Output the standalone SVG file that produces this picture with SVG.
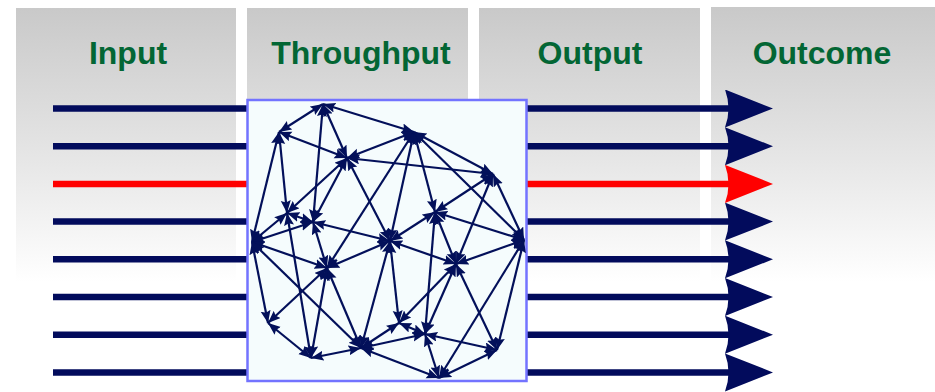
<svg xmlns="http://www.w3.org/2000/svg" width="935" height="392" viewBox="0 0 935 392">
<defs>
<linearGradient id="pg" x1="0" y1="0" x2="0" y2="1">
<stop offset="0" stop-color="#c9c9c9"/>
<stop offset="0.55" stop-color="#e6e6e6"/>
<stop offset="1" stop-color="#ffffff"/>
</linearGradient>
<marker id="bigN" markerUnits="userSpaceOnUse" markerWidth="50" markerHeight="40" viewBox="0 0 50 40" refX="10" refY="19" orient="auto">
<path d="M0,0 L48,19 L0,38 Q7,19 0,0 z" fill="#020b5c"/>
</marker>
<marker id="bigR" markerUnits="userSpaceOnUse" markerWidth="50" markerHeight="40" viewBox="0 0 50 40" refX="10" refY="19" orient="auto">
<path d="M0,0 L48,19 L0,38 Q7,19 0,0 z" fill="#ff0000"/>
</marker>
<marker id="sm" markerUnits="userSpaceOnUse" markerWidth="14" markerHeight="11" viewBox="0 0 14 11" refX="12.5" refY="5" orient="auto-start-reverse">
<path d="M0,0 L12.5,5 L0,10 L2,5 z" fill="#03105a"/>
</marker>
<style>
.panel{fill:url(#pg)}
.title{font-family:"Liberation Sans",Arial,sans-serif;font-weight:bold;font-size:32px;fill:#036634;text-anchor:middle}
.flow{stroke:#020b5c;stroke-width:6.5;fill:none;marker-end:url(#bigN)}
.flow.red{stroke:#ff0000;marker-end:url(#bigR)}
.e{stroke:#03105a;stroke-width:2.2;fill:none;marker-start:url(#sm);marker-end:url(#sm)}
</style>
</defs>
<rect width="935" height="392" fill="#ffffff"/>
<g id="panel-input"><rect class="panel" x="16" y="8" width="220" height="274"/><text class="title" x="128" y="64">Input</text></g>
<g id="panel-throughput"><rect class="panel" x="247" y="8" width="221" height="274"/><text class="title" x="361" y="64">Throughput</text></g>
<g id="panel-output"><rect class="panel" x="479" y="8" width="221" height="274"/><text class="title" x="590" y="64">Output</text></g>
<g id="panel-outcome"><rect class="panel" x="711" y="7" width="224" height="275"/><text class="title" x="822" y="64">Outcome</text></g>
<g id="flows">
<line class="flow" x1="53" y1="108.5" x2="735" y2="108.5"/>
<line class="flow" x1="53" y1="146.2" x2="735" y2="146.2"/>
<line class="flow red" x1="53" y1="183.9" x2="735" y2="183.9"/>
<line class="flow" x1="53" y1="221.6" x2="735" y2="221.6"/>
<line class="flow" x1="53" y1="259.3" x2="735" y2="259.3"/>
<line class="flow" x1="53" y1="297" x2="735" y2="297"/>
<line class="flow" x1="53" y1="334.7" x2="735" y2="334.7"/>
<line class="flow" x1="53" y1="372.4" x2="735" y2="372.4"/>
</g>
<g id="throughput-box"><rect x="247.5" y="100" width="279" height="281" fill="#f5fcfd" stroke="#7373ff" stroke-width="2.5"/></g>
<g id="connectors">
<line class="e" x1="323" y1="104" x2="279" y2="132"/>
<line class="e" x1="323" y1="104" x2="414" y2="132"/>
<line class="e" x1="323" y1="104" x2="347" y2="158"/>
<line class="e" x1="323" y1="104" x2="313" y2="222"/>
<line class="e" x1="279" y1="132" x2="347" y2="158"/>
<line class="e" x1="279" y1="132" x2="252" y2="242"/>
<line class="e" x1="279" y1="132" x2="287" y2="213"/>
<line class="e" x1="347" y1="158" x2="414" y2="132"/>
<line class="e" x1="347" y1="158" x2="493" y2="174"/>
<line class="e" x1="347" y1="158" x2="287" y2="213"/>
<line class="e" x1="347" y1="158" x2="313" y2="222"/>
<line class="e" x1="347" y1="158" x2="390" y2="241"/>
<line class="e" x1="414" y1="132" x2="327" y2="268"/>
<line class="e" x1="414" y1="132" x2="390" y2="241"/>
<line class="e" x1="414" y1="132" x2="435" y2="212"/>
<line class="e" x1="414" y1="132" x2="493" y2="174"/>
<line class="e" x1="414" y1="132" x2="524" y2="240"/>
<line class="e" x1="493" y1="174" x2="435" y2="212"/>
<line class="e" x1="493" y1="174" x2="456" y2="264"/>
<line class="e" x1="493" y1="174" x2="524" y2="240"/>
<line class="e" x1="287" y1="213" x2="252" y2="242"/>
<line class="e" x1="287" y1="213" x2="313" y2="222"/>
<line class="e" x1="287" y1="213" x2="311" y2="358"/>
<line class="e" x1="313" y1="222" x2="252" y2="242"/>
<line class="e" x1="313" y1="222" x2="327" y2="268"/>
<line class="e" x1="313" y1="222" x2="390" y2="241"/>
<line class="e" x1="252" y1="242" x2="327" y2="268"/>
<line class="e" x1="252" y1="242" x2="268" y2="323"/>
<line class="e" x1="252" y1="242" x2="361" y2="348"/>
<line class="e" x1="327" y1="268" x2="268" y2="323"/>
<line class="e" x1="327" y1="268" x2="311" y2="358"/>
<line class="e" x1="327" y1="268" x2="361" y2="348"/>
<line class="e" x1="327" y1="268" x2="390" y2="241"/>
<line class="e" x1="390" y1="241" x2="456" y2="264"/>
<line class="e" x1="390" y1="241" x2="361" y2="348"/>
<line class="e" x1="390" y1="241" x2="399" y2="323"/>
<line class="e" x1="435" y1="212" x2="390" y2="241"/>
<line class="e" x1="435" y1="212" x2="524" y2="240"/>
<line class="e" x1="435" y1="212" x2="456" y2="264"/>
<line class="e" x1="435" y1="212" x2="425" y2="334"/>
<line class="e" x1="524" y1="240" x2="456" y2="264"/>
<line class="e" x1="524" y1="240" x2="497" y2="350"/>
<line class="e" x1="524" y1="240" x2="439" y2="378"/>
<line class="e" x1="456" y1="264" x2="399" y2="323"/>
<line class="e" x1="456" y1="264" x2="425" y2="334"/>
<line class="e" x1="456" y1="264" x2="497" y2="350"/>
<line class="e" x1="268" y1="323" x2="311" y2="358"/>
<line class="e" x1="311" y1="358" x2="361" y2="348"/>
<line class="e" x1="361" y1="348" x2="399" y2="323"/>
<line class="e" x1="361" y1="348" x2="425" y2="334"/>
<line class="e" x1="361" y1="348" x2="439" y2="378"/>
<line class="e" x1="399" y1="323" x2="425" y2="334"/>
<line class="e" x1="425" y1="334" x2="497" y2="350"/>
<line class="e" x1="425" y1="334" x2="439" y2="378"/>
<line class="e" x1="497" y1="350" x2="439" y2="378"/>
</g>
</svg>
